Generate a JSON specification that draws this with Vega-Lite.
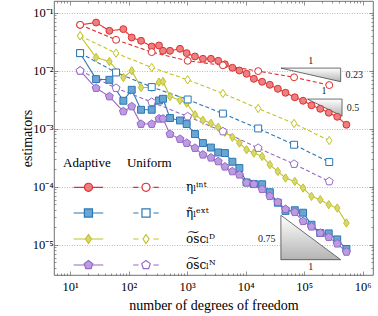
{
  "$schema": "https://vega.github.io/schema/vega-lite/v6.json",
  "width": 319,
  "height": 274,
  "autosize": {"type": "none"},
  "padding": {"left": 54, "top": 1, "right": 5, "bottom": 41},
  "background": "white",
  "config": {
    "font": "Liberation Serif",
    "view": {"stroke": "#4d4d4d", "strokeWidth": 0.8},
    "axis": {"labelColor": "black", "titleColor": "black", "tickColor": "#4d4d4d", "labelFontSize": 12.5, "titleFontSize": 14, "titleFontWeight": "normal", "domain": false, "grid": false, "tickWidth": 0.6, "labelFont": "Liberation Serif", "titleFont": "Liberation Serif"}
  },
  "datasets": {
    "est": [
      {"n":14.81,"v":0.06209,"e":"int","m":"A"},{"n":27.78,"v":0.06803,"e":"int","m":"A"},{"n":46.84,"v":0.04894,"e":"int","m":"A"},{"n":81.2,"v":0.05236,"e":"int","m":"A"},{"n":112.9,"v":0.0375,"e":"int","m":"A"},{"n":162.8,"v":0.03291,"e":"int","m":"A"},{"n":247.9,"v":0.02624,"e":"int","m":"A"},{"n":330.2,"v":0.0273,"e":"int","m":"A"},{"n":386.4,"v":0.02212,"e":"int","m":"A"},{"n":508.7,"v":0.02212,"e":"int","m":"A"},{"n":753.8,"v":0.02395,"e":"int","m":"A"},{"n":980.6,"v":0.02019,"e":"int","m":"A"},{"n":1359,"v":0.01765,"e":"int","m":"A"},{"n":1860,"v":0.0161,"e":"int","m":"A"},{"n":2548,"v":0.0161,"e":"int","m":"A"},{"n":3395,"v":0.01487,"e":"int","m":"A"},{"n":4417,"v":0.01294,"e":"int","m":"A"},{"n":5929,"v":0.01126,"e":"int","m":"A"},{"n":7807,"v":0.01012,"e":"int","m":"A"},{"n":10360,"v":0.008879,"e":"int","m":"A"},{"n":13800,"v":0.007278,"e":"int","m":"A"},{"n":19120,"v":0.006461,"e":"int","m":"A"},{"n":25880,"v":0.005737,"e":"int","m":"A"},{"n":35440,"v":0.004894,"e":"int","m":"A"},{"n":47970,"v":0.004175,"e":"int","m":"A"},{"n":69110,"v":0.003492,"e":"int","m":"A"},{"n":95760,"v":0.00304,"e":"int","m":"A"},{"n":133200,"v":0.002542,"e":"int","m":"A"},{"n":188200,"v":0.002212,"e":"int","m":"A"},{"n":262900,"v":0.001888,"e":"int","m":"A"},{"n":367100,"v":0.00161,"e":"int","m":"A"},{"n":527000,"v":0.001172,"e":"int","m":"A"},
      {"n":14.81,"v":0.02019,"e":"ext","m":"A"},{"n":27.78,"v":0.007192,"e":"ext","m":"A"},{"n":46.84,"v":0.006995,"e":"ext","m":"A"},{"n":81.2,"v":0.00304,"e":"ext","m":"A"},{"n":112.9,"v":0.004703,"e":"ext","m":"A"},{"n":162.8,"v":0.002126,"e":"ext","m":"A"},{"n":247.9,"v":0.002126,"e":"ext","m":"A"},{"n":330.2,"v":0.003075,"e":"ext","m":"A"},{"n":386.4,"v":0.003291,"e":"ext","m":"A"},{"n":508.7,"v":0.001529,"e":"ext","m":"A"},{"n":753.8,"v":0.00139,"e":"ext","m":"A"},{"n":980.6,"v":0.001205,"e":"ext","m":"A"},{"n":1359,"v":0.0008104,"e":"ext","m":"A"},{"n":1860,"v":0.0005667,"e":"ext","m":"A"},{"n":2548,"v":0.0004741,"e":"ext","m":"A"},{"n":3395,"v":0.0003903,"e":"ext","m":"A"},{"n":4417,"v":0.0003811,"e":"ext","m":"A"},{"n":5929,"v":0.0002698,"e":"ext","m":"A"},{"n":7807,"v":0.0002101,"e":"ext","m":"A"},{"n":10360,"v":0.0001186,"e":"ext","m":"A"},{"n":13800,"v":0.0001117,"e":"ext","m":"A"},{"n":19120,"v":0.0001104,"e":"ext","m":"A"},{"n":25880,"v":0.00008038,"e":"ext","m":"A"},{"n":35440,"v":0.00005298,"e":"ext","m":"A"},{"n":47970,"v":0.00003826,"e":"ext","m":"A"},{"n":69110,"v":0.00003933,"e":"ext","m":"A"},{"n":95760,"v":0.00003562,"e":"ext","m":"A"},{"n":133200,"v":0.00002212,"e":"ext","m":"A"},{"n":188200,"v":0.00001591,"e":"ext","m":"A"},{"n":262900,"v":0.00001566,"e":"ext","m":"A"},{"n":367100,"v":0.00001234,"e":"ext","m":"A"},{"n":527000,"v":0.00000843,"e":"ext","m":"A"},
      {"n":14.81,"v":0.04012,"e":"D","m":"A"},{"n":27.78,"v":0.01696,"e":"D","m":"A"},{"n":46.84,"v":0.01446,"e":"D","m":"A"},{"n":81.2,"v":0.007662,"e":"D","m":"A"},{"n":112.9,"v":0.01,"e":"D","m":"A"},{"n":162.8,"v":0.005153,"e":"D","m":"A"},{"n":247.9,"v":0.005153,"e":"D","m":"A"},{"n":330.2,"v":0.006386,"e":"D","m":"A"},{"n":386.4,"v":0.006539,"e":"D","m":"A"},{"n":508.7,"v":0.003604,"e":"D","m":"A"},{"n":753.8,"v":0.0031,"e":"D","m":"A"},{"n":980.6,"v":0.002774,"e":"D","m":"A"},{"n":1359,"v":0.001743,"e":"D","m":"A"},{"n":1860,"v":0.001401,"e":"D","m":"A"},{"n":2548,"v":0.001244,"e":"D","m":"A"},{"n":3395,"v":0.001061,"e":"D","m":"A"},{"n":4417,"v":0.0008704,"e":"D","m":"A"},{"n":5929,"v":0.0007135,"e":"D","m":"A"},{"n":7807,"v":0.0005667,"e":"D","m":"A"},{"n":10360,"v":0.0004343,"e":"D","m":"A"},{"n":13800,"v":0.0003811,"e":"D","m":"A"},{"n":19120,"v":0.000333,"e":"D","m":"A"},{"n":25880,"v":0.0002395,"e":"D","m":"A"},{"n":35440,"v":0.0001835,"e":"D","m":"A"},{"n":47970,"v":0.0001413,"e":"D","m":"A"},{"n":69110,"v":0.0001234,"e":"D","m":"A"},{"n":95760,"v":0.00009497,"e":"D","m":"A"},{"n":133200,"v":0.00006804,"e":"D","m":"A"},{"n":188200,"v":0.00005969,"e":"D","m":"A"},{"n":262900,"v":0.00004894,"e":"D","m":"A"},{"n":367100,"v":0.00004293,"e":"D","m":"A"},{"n":527000,"v":0.00002366,"e":"D","m":"A"},
      {"n":14.81,"v":0.01,"e":"N","m":"A"},{"n":27.78,"v":0.005031,"e":"N","m":"A"},{"n":46.84,"v":0.003604,"e":"N","m":"A"},{"n":81.2,"v":0.001988,"e":"N","m":"A"},{"n":112.9,"v":0.002424,"e":"N","m":"A"},{"n":162.8,"v":0.001205,"e":"N","m":"A"},{"n":247.9,"v":0.001205,"e":"N","m":"A"},{"n":330.2,"v":0.001487,"e":"N","m":"A"},{"n":386.4,"v":0.001487,"e":"N","m":"A"},{"n":508.7,"v":0.0008104,"e":"N","m":"A"},{"n":753.8,"v":0.0006644,"e":"N","m":"A"},{"n":980.6,"v":0.0005667,"e":"N","m":"A"},{"n":1359,"v":0.0004648,"e":"N","m":"A"},{"n":1860,"v":0.0003562,"e":"N","m":"A"},{"n":2548,"v":0.0003162,"e":"N","m":"A"},{"n":3395,"v":0.000273,"e":"N","m":"A"},{"n":4417,"v":0.0002212,"e":"N","m":"A"},{"n":5929,"v":0.0001835,"e":"N","m":"A"},{"n":7807,"v":0.000161,"e":"N","m":"A"},{"n":10360,"v":0.0001172,"e":"N","m":"A"},{"n":13800,"v":0.0001104,"e":"N","m":"A"},{"n":19120,"v":0.00009055,"e":"N","m":"A"},{"n":25880,"v":0.00006858,"e":"N","m":"A"},{"n":35440,"v":0.00005405,"e":"N","m":"A"},{"n":47970,"v":0.00004094,"e":"N","m":"A"},{"n":69110,"v":0.00003634,"e":"N","m":"A"},{"n":95760,"v":0.00002542,"e":"N","m":"A"},{"n":133200,"v":0.00002042,"e":"N","m":"A"},{"n":188200,"v":0.00001591,"e":"N","m":"A"},{"n":262900,"v":0.00001347,"e":"N","m":"A"},{"n":367100,"v":0.0000104,"e":"N","m":"A"},{"n":527000,"v":0.00000751,"e":"N","m":"A"},
      {"n":14.81,"v":0.06209,"e":"int","m":"U"},{"n":60.95,"v":0.03424,"e":"int","m":"U"},{"n":247.9,"v":0.02101,"e":"int","m":"U"},{"n":1020,"v":0.01487,"e":"int","m":"U"},{"n":4083,"v":0.01244,"e":"int","m":"U"},{"n":16350,"v":0.009881,"e":"int","m":"U"},{"n":67230,"v":0.007722,"e":"int","m":"U"},{"n":268100,"v":0.005667,"e":"int","m":"U"},
      {"n":14.81,"v":0.02019,"e":"ext","m":"U"},{"n":60.95,"v":0.009348,"e":"ext","m":"U"},{"n":247.9,"v":0.005236,"e":"ext","m":"U"},{"n":1020,"v":0.0032,"e":"ext","m":"U"},{"n":4083,"v":0.001829,"e":"ext","m":"U"},{"n":16350,"v":0.001012,"e":"ext","m":"U"},{"n":67230,"v":0.0005298,"e":"ext","m":"U"},{"n":268100,"v":0.0002666,"e":"ext","m":"U"},
      {"n":14.81,"v":0.04012,"e":"D","m":"U"},{"n":60.95,"v":0.02019,"e":"D","m":"U"},{"n":247.9,"v":0.0114,"e":"D","m":"U"},{"n":1020,"v":0.006995,"e":"D","m":"U"},{"n":4083,"v":0.004061,"e":"D","m":"U"},{"n":16350,"v":0.002239,"e":"D","m":"U"},{"n":67230,"v":0.001234,"e":"D","m":"U"},{"n":268100,"v":0.0006259,"e":"D","m":"U"},
      {"n":14.81,"v":0.01,"e":"N","m":"U"},{"n":60.95,"v":0.005031,"e":"N","m":"U"},{"n":247.9,"v":0.002886,"e":"N","m":"U"},{"n":1020,"v":0.00163,"e":"N","m":"U"},{"n":4083,"v":0.0008984,"e":"N","m":"U"},{"n":16350,"v":0.0004648,"e":"N","m":"U"},{"n":67230,"v":0.0002462,"e":"N","m":"U"},{"n":268100,"v":0.0001234,"e":"N","m":"U"}
    ],
    "tri": [
      {"t":"a","n":40000,"y1":0.01113,"y2":0.01113},{"t":"a","n":420000,"y1":0.01113,"y2":0.006481},
      {"t":"b","n":113800,"y1":0.003252,"y2":0.003252},{"t":"b","n":443500,"y1":0.003252,"y2":0.001647},
      {"t":"c","n":40000,"y1":0.00003216,"y2":0.000005512},{"t":"c","n":420000,"y1":0.000005512,"y2":0.000005512}
    ],
    "lab": [
      {"n":129600,"v":0.01487,"s":"1"},{"n":716000,"v":0.008299,"s":"0.23"},
      {"n":218600,"v":0.00452,"s":"1"},{"n":683300,"v":0.002274,"s":"0.5"},
      {"n":23000,"v":0.00001268,"s":"0.75"},{"n":129600,"v":0.000004061,"s":"1"}
    ],
    "leg": [{"k":"a_int"},{"k":"a_ext"},{"k":"a_D"},{"k":"a_N"},{"k":"u_int"},{"k":"u_ext"},{"k":"u_D"},{"k":"u_N"}]
  },
  "layer": [
    {
      "data": {"name": "tri"},
      "mark": {"type": "area", "fill": {"gradient": "linear", "x1": 0, "y1": 0, "x2": 0, "y2": 1, "stops": [{"offset": 0, "color": "#ffffff"}, {"offset": 1, "color": "#b4b4b4"}]}, "stroke": "#333333", "strokeWidth": 0.7},
      "encoding": {
        "x": {"field": "n", "type": "quantitative", "scale": {"type": "log", "domain": [5.3, 1500000], "nice": false},
          "axis": {"orient": "top", "values": [6,7,8,9,10,20,30,40,50,60,70,80,90,100,200,300,400,500,600,700,800,900,1000,2000,3000,4000,5000,6000,7000,8000,9000,10000,20000,30000,40000,50000,60000,70000,80000,90000,100000,200000,300000,400000,500000,600000,700000,800000,900000,1000000], "labels": false, "title": null, "tickSize": {"condition": {"test": "abs(log(datum.value)/LN10 - round(log(datum.value)/LN10)) < 0.001", "value": -4}, "value": -2}}},
        "y": {"field": "y1", "type": "quantitative", "scale": {"type": "log", "domain": [0.000003, 0.16], "nice": false},
          "axis": {"orient": "right", "values": [0.000004,0.000005,0.000006,0.000007,0.000008,0.000009,0.00001,0.00002,0.00003,0.00004,0.00005,0.00006,0.00007,0.00008,0.00009,0.0001,0.0002,0.0003,0.0004,0.0005,0.0006,0.0007,0.0008,0.0009,0.001,0.002,0.003,0.004,0.005,0.006,0.007,0.008,0.009,0.01,0.02,0.03,0.04,0.05,0.06,0.07,0.08,0.09,0.1], "labels": false, "title": null, "tickSize": {"condition": {"test": "abs(log(datum.value)/LN10 - round(log(datum.value)/LN10)) < 0.001", "value": -4}, "value": -2}}},
        "y2": {"field": "y2"},
        "detail": {"field": "t"}
      }
    },
    {
      "data": {"name": "lab"},
      "mark": {"type": "text", "fontSize": 10, "font": "Liberation Serif", "color": "#222222", "align": "center", "baseline": "middle"},
      "encoding": {
        "x": {"field": "n", "type": "quantitative", "axis": null},
        "y": {"field": "v", "type": "quantitative", "axis": null},
        "text": {"field": "s"}
      }
    },
    {
      "data": {"name": "est"},
      "mark": {"type": "line", "strokeWidth": 1.1},
      "encoding": {
        "x": {"field": "n", "type": "quantitative",
          "axis": {"orient": "bottom", "values": [6,7,8,9,10,20,30,40,50,60,70,80,90,100,200,300,400,500,600,700,800,900,1000,2000,3000,4000,5000,6000,7000,8000,9000,10000,20000,30000,40000,50000,60000,70000,80000,90000,100000,200000,300000,400000,500000,600000,700000,800000,900000,1000000],
            "labelExpr": "datum.value == 10 ? '10¹' : datum.value == 100 ? '10²' : datum.value == 1000 ? '10³' : datum.value == 10000 ? '10⁴' : datum.value == 100000 ? '10⁵' : datum.value == 1000000 ? '10⁶' : ''",
            "labelOverlap": false, "labelFlush": false, "labelPadding": 9,
            "tickSize": {"condition": {"test": "abs(log(datum.value)/LN10 - round(log(datum.value)/LN10)) < 0.001", "value": -4}, "value": -2},
            "title": "number of degrees of freedom", "titlePadding": 4}},
        "y": {"field": "v", "type": "quantitative",
          "axis": {"orient": "left", "values": [0.000004,0.000005,0.000006,0.000007,0.000008,0.000009,0.00001,0.00002,0.00003,0.00004,0.00005,0.00006,0.00007,0.00008,0.00009,0.0001,0.0002,0.0003,0.0004,0.0005,0.0006,0.0007,0.0008,0.0009,0.001,0.002,0.003,0.004,0.005,0.006,0.007,0.008,0.009,0.01,0.02,0.03,0.04,0.05,0.06,0.07,0.08,0.09,0.1],
            "labelExpr": "datum.value == 0.1 ? '10⁻¹' : datum.value == 0.01 ? '10⁻²' : datum.value == 0.001 ? '10⁻³' : datum.value == 0.0001 ? '10⁻⁴' : datum.value == 0.00001 ? '10⁻⁵' : ''",
            "labelOverlap": false, "labelFlush": false, "labelPadding": 5,
            "tickSize": {"condition": {"test": "abs(log(datum.value)/LN10 - round(log(datum.value)/LN10)) < 0.001", "value": -4}, "value": -2},
            "grid": true, "gridColor": "#a8a8a8", "gridDash": [1, 1.5], "gridWidth": 0.8,
            "gridOpacity": {"condition": {"test": "abs(log(datum.value)/LN10 - round(log(datum.value)/LN10)) < 0.001", "value": 1}, "value": 0},
            "title": "estimators", "titlePadding": -2}},
        "stroke": {"field": "e", "type": "nominal", "scale": {"domain": ["int", "ext", "D", "N"], "range": ["#dd3030", "#2a78b6", "#c2c227", "#9568c6"]}, "legend": null},
        "strokeDash": {"field": "m", "type": "nominal", "scale": {"domain": ["A", "U"], "range": [[1, 0], [4, 2.5]]}, "legend": null}
      }
    },
    {
      "data": {"name": "est"},
      "mark": {"type": "point", "filled": true, "strokeWidth": 1, "size": 48, "opacity": 1, "fillOpacity": 1},
      "encoding": {
        "x": {"field": "n", "type": "quantitative", "axis": null},
        "y": {"field": "v", "type": "quantitative", "axis": null},
        "shape": {"field": "e", "type": "nominal", "scale": {"domain": ["int", "ext", "D", "N"], "range": ["circle", "square", "M0,-1.2L0.8,0L0,1.2L-0.8,0Z", "M0,-1.2L1.141,-0.371L0.705,0.971L-0.705,0.971L-1.141,-0.371Z"]}, "legend": null},
        "stroke": {"field": "e", "type": "nominal", "scale": {"domain": ["int", "ext", "D", "N"], "range": ["#dd3030", "#2a78b6", "#c2c227", "#9568c6"]}, "legend": null},
        "fill": {"condition": {"test": "datum.m == 'U'", "value": "white"}, "field": "e", "type": "nominal", "scale": {"domain": ["int", "ext", "D", "N"], "range": ["#ec7f7f", "#6ba5d2", "#d8d872", "#bb9ce0"]}, "legend": null}
      }
    },
    {
      "data": {"name": "leg"},
      "mark": {"type": "point", "filled": true, "opacity": 0},
      "encoding": {
        "shape": {"field": "k", "type": "nominal",
          "scale": {"domain": ["a_int","a_ext","a_D","a_N","u_int","u_ext","u_D","u_N"],
            "range": [
              "M-0.355,0L0.36,0M0.9,0L1.615,0M0.9,0A0.27,0.27,0,1,1,0.36,0A0.27,0.27,0,1,1,0.9,0Z",
              "M-0.355,0L0.36,0M0.9,0L1.615,0M0.36,-0.27L0.9,-0.27L0.9,0.27L0.36,0.27Z",
              "M-0.355,0L0.43,0M0.83,0L1.615,0M0.63,-0.3L0.83,0L0.63,0.3L0.43,0Z",
              "M-0.355,0L0.36,0M0.9,0L1.615,0M0.63,-0.3L0.915,-0.093L0.806,0.243L0.454,0.243L0.345,-0.093Z",
              "M-0.85,0L-0.5,0M0.5,0L0.85,0M0.27,0A0.27,0.27,0,1,1,-0.27,0A0.27,0.27,0,1,1,0.27,0Z",
              "M-0.85,0L-0.5,0M0.5,0L0.85,0M-0.27,-0.27L0.27,-0.27L0.27,0.27L-0.27,0.27Z",
              "M-0.85,0L-0.5,0M0.5,0L0.85,0M0,-0.3L0.2,0L0,0.3L-0.2,0Z",
              "M-0.85,0L-0.5,0M0.5,0L0.85,0M0,-0.3L0.285,-0.093L0.176,0.243L-0.176,0.243L-0.285,-0.093Z"
            ]},
          "legend": {"orient": "none", "legendX": 9, "legendY": 156, "columns": 2, "padding": 0,
            "title": "Adaptive\u00a0\u00a0\u00a0\u00a0\u00a0Uniform", "titleFont": "Liberation Serif", "titleFontSize": 13, "titleFontWeight": "normal", "titleColor": "black", "titlePadding": 1,
            "labelFont": "DejaVu Serif", "labelFontSize": 12, "labelColor": "black", "labelLimit": 200, "labelOffset": 24,
            "labelExpr": "datum.value == 'u_int' ? 'ηₗⁱⁿᵗ' : datum.value == 'u_ext' ? 'η̃ₗᵉˣᵗ' : datum.value == 'u_D' ? 'o͠scₗᴰ' : datum.value == 'u_N' ? 'o͠scₗᴺ' : ' '",
            "symbolSize": 900, "symbolStrokeWidth": 1.2, "symbolOpacity": 1, "columnPadding": 11, "rowPadding": 3}},
        "stroke": {"field": "k", "type": "nominal", "scale": {"domain": ["a_int","a_ext","a_D","a_N","u_int","u_ext","u_D","u_N"], "range": ["#dd3030","#2a78b6","#c2c227","#9568c6","#dd3030","#2a78b6","#c2c227","#9568c6"]}},
        "fill": {"field": "k", "type": "nominal", "scale": {"domain": ["a_int","a_ext","a_D","a_N","u_int","u_ext","u_D","u_N"], "range": ["#ec7f7f","#6ba5d2","#d8d872","#bb9ce0","white","white","white","white"]}}
      }
    }
  ],
  "resolve": {"axis": {"x": "independent", "y": "independent"}, "scale": {"stroke": "independent", "fill": "independent", "shape": "independent", "strokeDash": "independent"}}
}
